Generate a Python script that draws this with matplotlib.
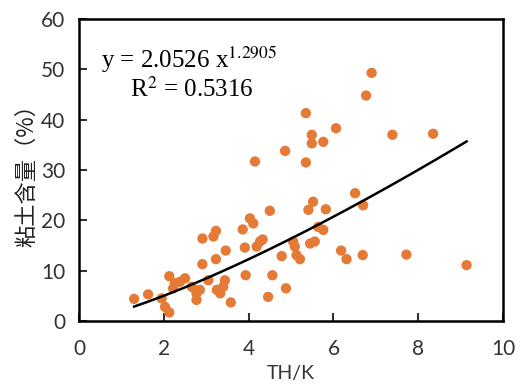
import matplotlib.pyplot as plt
import numpy as np

plt.rcParams['mathtext.fontset'] = 'stix'

# TH/K ratio and clay content (%) of the samples
th_k = [1.30, 1.63, 1.95, 2.03, 2.13, 2.13, 2.26, 2.38, 2.50, 2.22, 2.66, 2.77, 2.77,
        2.85, 2.91, 2.91, 3.05, 3.17, 3.23, 3.23, 3.25, 3.33, 3.40, 3.44, 3.46, 3.58,
        3.93, 3.86, 3.91, 4.03, 4.11, 4.15, 4.19, 4.27, 4.33, 4.46, 4.56, 4.50, 4.78,
        4.86, 4.88, 5.05, 5.09, 5.13, 5.21, 5.35, 5.35, 5.41, 5.45, 5.52, 5.49, 5.49,
        5.56, 5.76, 5.64, 5.76, 5.82, 6.06, 6.18, 6.31, 6.51, 6.69, 6.70, 6.77, 6.90,
        7.39, 7.72, 8.35, 9.14]
clay = [4.4, 5.3, 4.5, 2.8, 1.7, 8.9, 7.5, 7.8, 8.5, 6.5, 6.8, 5.5, 4.2,
        6.2, 11.3, 16.4, 8.1, 16.8, 17.9, 12.3, 6.2, 5.5, 6.8, 8.1, 14.0, 3.7,
        9.1, 18.2, 14.6, 20.4, 19.4, 31.7, 14.8, 15.8, 16.2, 4.8, 9.1, 21.9, 12.9,
        33.8, 6.5, 15.8, 14.8, 13.1, 12.3, 41.3, 31.5, 22.1, 15.4, 23.7, 37.0, 35.3,
        15.8, 35.6, 18.7, 18.1, 22.2, 38.3, 14.0, 12.3, 25.4, 13.1, 23.0, 44.8, 49.3,
        37.0, 13.2, 37.2, 11.1]

# power-law fit y = a * x^b
a, b = 2.0526, 1.2905
r2 = 0.5316

fig = plt.figure(figsize=(5.21, 3.92), dpi=100)
ax = fig.add_axes([0.1516, 0.181, 0.814, 0.7705])

ax.scatter(th_k, clay, s=55, color='#E47A35', edgecolors='none', zorder=2)

xf = np.linspace(min(th_k), max(th_k), 200)
ax.plot(xf, a * xf ** b, color='black', lw=1.8, zorder=3)

ax.text(0.53, 50.3, r'y = %.4f x$^{%.4f}$' % (a, b), family='Liberation Serif', fontsize=18)
ax.text(1.2, 44.5, r'R$^{2}$ = %.4f' % r2, family='Liberation Serif', fontsize=18)

ax.set_xlim(0, 10)
ax.set_ylim(0, 60)
ax.set_xticks([0, 2, 4, 6, 8, 10])
ax.set_yticks([0, 10, 20, 30, 40, 50, 60])
ax.tick_params(direction='in', length=6, width=1.5, labelsize=15, colors='#333333',
               top=False, right=False)
ax.tick_params(axis='x', pad=13)
ax.tick_params(axis='y', pad=10)
for lab in ax.get_xticklabels() + ax.get_yticklabels():
    lab.set_family('Lato')
for sp in ax.spines.values():
    sp.set_linewidth(1.8)

ax.set_xlabel('TH/K', family='Lato', fontsize=14, color='#333333', labelpad=4)
ax.set_ylabel('粘土含量（%）', family=['Noto Sans CJK SC', 'DejaVu Sans'], fontsize=16,
              color='#222222', labelpad=2)

plt.savefig('out.png')
